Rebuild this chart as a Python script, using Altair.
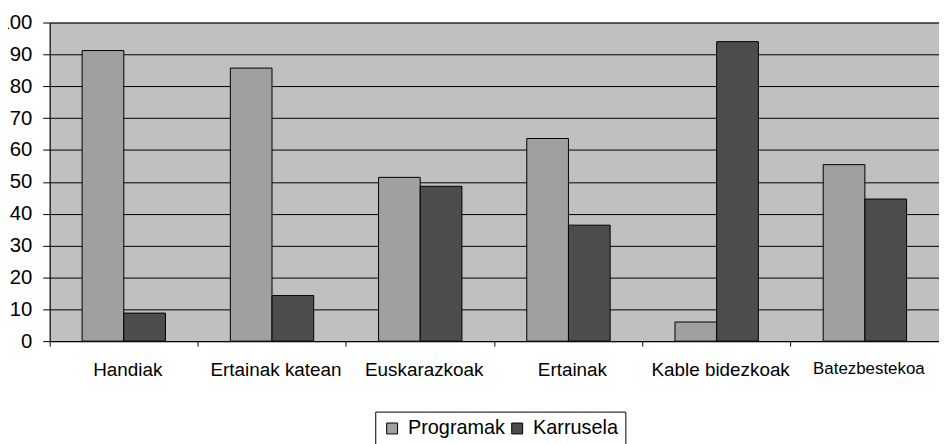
import altair as alt
import pandas as pd

categories = ["Handiak", "Ertainak katean", "Euskarazkoak", "Ertainak", "Kable bidezkoak", "Batezbestekoa"]
series = ["Programak", "Karrusela"]
programak = [91.2, 85.7, 51.4, 63.6, 6.0, 55.4]
karrusela = [8.8, 14.3, 48.6, 36.4, 94.0, 44.6]
colors = ["#A0A0A0", "#4D4D4D"]
y_ticks = [0, 10, 20, 30, 40, 50, 60, 70, 80, 90, 100]

rows = []
for i, c in enumerate(categories):
    rows.append({"cat": c, "series": "Programak", "value": programak[i]})
    rows.append({"cat": c, "series": "Karrusela", "value": karrusela[i]})
df = pd.DataFrame(rows)

FONT = "Liberation Sans"

chart = alt.Chart(df).mark_bar(stroke="black", strokeWidth=1).encode(
    x=alt.X("cat:N", sort=categories, title=None,
            scale=alt.Scale(paddingInner=0, paddingOuter=0),
            axis=alt.Axis(bandPosition=0, labelOffset=4, labelAngle=0,
                          tickSize=5, tickColor="black", domainColor="black",
                          labelPadding=15, labelFont=FONT, labelColor="black",
                          labelFontSize={"condition": {"test": "datum.value == 'Batezbestekoa'", "value": 17}, "value": 19},
                          labelBaseline="top", grid=False)),
    xOffset=alt.XOffset("series:N", sort=series,
                        scale=alt.Scale(paddingInner=0, paddingOuter=0.778)),
    y=alt.Y("value:Q", title=None,
            scale=alt.Scale(domain=[0, 100], nice=False),
            axis=alt.Axis(values=y_ticks, tickSize=7, tickColor="black", domainColor="black",
                          labelPadding=11, labelFont=FONT, labelFontSize=20.5, labelColor="black",
                          grid=True, gridColor="black", gridWidth=1, gridOpacity=1)),
    color=alt.Color("series:N", sort=series,
                    scale=alt.Scale(domain=series, range=colors),
                    legend=alt.Legend(orient="none", legendX=328, legendY=392,
                                      direction="horizontal", title=None,
                                      strokeColor="black", fillColor="white", padding=7,
                                      symbolType="square", symbolSize=121,
                                      symbolStrokeColor="black", symbolStrokeWidth=1,
                                      symbolOpacity=1,
                                      labelFont=FONT, labelFontSize=20, labelColor="black",
                                      columnPadding=2, labelOffset=6)),
).properties(
    width=896, height=321,
    background="white",
    autosize=alt.AutoSizeParams(type="none"),
    padding={"left": 42, "top": 13, "right": 0, "bottom": 102},
).configure_view(
    fill="#C0C0C0", stroke="#777777", strokeWidth=1
)

chart.save("out.html", embed_options={"renderer": "svg", "actions": False})
